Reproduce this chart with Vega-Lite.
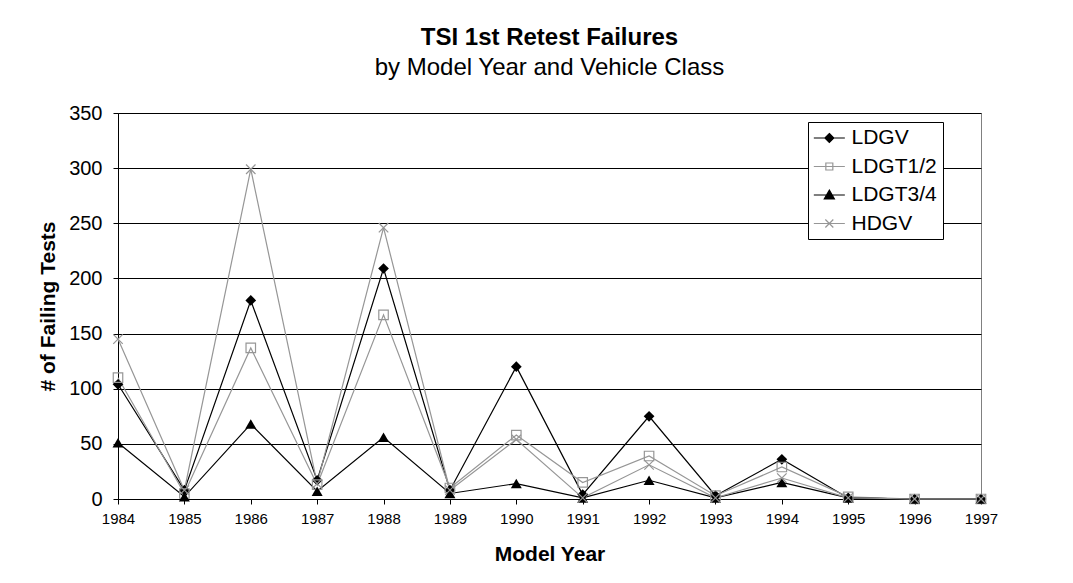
{
  "$schema": "https://vega.github.io/schema/vega-lite/v6.json",
  "width": 863,
  "height": 386,
  "autosize": {"type": "none"},
  "padding": {"left": 118, "top": 113, "right": 92, "bottom": 84},
  "background": "white",
  "title": {
    "text": "TSI 1st Retest Failures",
    "subtitle": "by Model Year and Vehicle Class",
    "anchor": "middle",
    "font": "Liberation Sans",
    "fontSize": 24,
    "fontWeight": "bold",
    "color": "#000000",
    "subtitleFont": "Liberation Sans",
    "subtitleFontSize": 24,
    "subtitleFontWeight": "normal",
    "subtitleColor": "#000000",
    "subtitlePadding": 6,
    "offset": 23
  },
  "data": {
    "values": [
      {"series": "LDGV", "year": 1984, "value": 104},
      {"series": "LDGV", "year": 1985, "value": 8},
      {"series": "LDGV", "year": 1986, "value": 180},
      {"series": "LDGV", "year": 1987, "value": 17},
      {"series": "LDGV", "year": 1988, "value": 209},
      {"series": "LDGV", "year": 1989, "value": 8},
      {"series": "LDGV", "year": 1990, "value": 120},
      {"series": "LDGV", "year": 1991, "value": 4},
      {"series": "LDGV", "year": 1992, "value": 75},
      {"series": "LDGV", "year": 1993, "value": 3},
      {"series": "LDGV", "year": 1994, "value": 36},
      {"series": "LDGV", "year": 1995, "value": 1},
      {"series": "LDGV", "year": 1996, "value": 0},
      {"series": "LDGV", "year": 1997, "value": 0},
      {"series": "LDGT1/2", "year": 1984, "value": 110},
      {"series": "LDGT1/2", "year": 1985, "value": 5},
      {"series": "LDGT1/2", "year": 1986, "value": 137},
      {"series": "LDGT1/2", "year": 1987, "value": 13},
      {"series": "LDGT1/2", "year": 1988, "value": 167},
      {"series": "LDGT1/2", "year": 1989, "value": 10},
      {"series": "LDGT1/2", "year": 1990, "value": 58},
      {"series": "LDGT1/2", "year": 1991, "value": 15},
      {"series": "LDGT1/2", "year": 1992, "value": 39},
      {"series": "LDGT1/2", "year": 1993, "value": 3},
      {"series": "LDGT1/2", "year": 1994, "value": 29},
      {"series": "LDGT1/2", "year": 1995, "value": 2},
      {"series": "LDGT1/2", "year": 1996, "value": 0},
      {"series": "LDGT1/2", "year": 1997, "value": 0},
      {"series": "LDGT3/4", "year": 1984, "value": 51},
      {"series": "LDGT3/4", "year": 1985, "value": 2},
      {"series": "LDGT3/4", "year": 1986, "value": 68},
      {"series": "LDGT3/4", "year": 1987, "value": 7},
      {"series": "LDGT3/4", "year": 1988, "value": 56},
      {"series": "LDGT3/4", "year": 1989, "value": 5},
      {"series": "LDGT3/4", "year": 1990, "value": 14},
      {"series": "LDGT3/4", "year": 1991, "value": 1},
      {"series": "LDGT3/4", "year": 1992, "value": 17},
      {"series": "LDGT3/4", "year": 1993, "value": 1},
      {"series": "LDGT3/4", "year": 1994, "value": 15},
      {"series": "LDGT3/4", "year": 1995, "value": 1},
      {"series": "LDGT3/4", "year": 1996, "value": 0},
      {"series": "LDGT3/4", "year": 1997, "value": 0},
      {"series": "HDGV", "year": 1984, "value": 145},
      {"series": "HDGV", "year": 1985, "value": 8},
      {"series": "HDGV", "year": 1986, "value": 299},
      {"series": "HDGV", "year": 1987, "value": 14},
      {"series": "HDGV", "year": 1988, "value": 246},
      {"series": "HDGV", "year": 1989, "value": 8},
      {"series": "HDGV", "year": 1990, "value": 54},
      {"series": "HDGV", "year": 1991, "value": 1},
      {"series": "HDGV", "year": 1992, "value": 31},
      {"series": "HDGV", "year": 1993, "value": 1},
      {"series": "HDGV", "year": 1994, "value": 19},
      {"series": "HDGV", "year": 1995, "value": 1},
      {"series": "HDGV", "year": 1996, "value": 0},
      {"series": "HDGV", "year": 1997, "value": 0}
    ]
  },
  "encoding": {
    "x": {
      "field": "year",
      "type": "quantitative",
      "scale": {"domain": [1984, 1997], "nice": false, "zero": false},
      "axis": {
        "title": "Model Year",
        "values": [1984, 1985, 1986, 1987, 1988, 1989, 1990, 1991, 1992, 1993, 1994, 1995, 1996, 1997],
        "format": "d",
        "grid": false,
        "domainColor": "#000000",
        "tickColor": "#000000",
        "tickSize": 5,
        "labelFont": "Liberation Sans",
        "labelFontSize": 15,
        "labelColor": "#000000",
        "labelPadding": 7,
        "labelFlush": false,
        "labelOverlap": false,
        "titleFont": "Liberation Sans",
        "titleFontSize": 21,
        "titleFontWeight": "bold",
        "titleColor": "#000000",
        "titlePadding": 17
      }
    },
    "y": {
      "field": "value",
      "type": "quantitative",
      "scale": {"domain": [0, 350], "nice": false},
      "axis": {
        "title": "# of Failing Tests",
        "values": [0, 50, 100, 150, 200, 250, 300, 350],
        "grid": true,
        "gridColor": "#000000",
        "gridWidth": 1,
        "domainColor": "#000000",
        "tickColor": "#000000",
        "tickSize": 5,
        "labelFont": "Liberation Sans",
        "labelFontSize": 20,
        "labelColor": "#000000",
        "labelPadding": 11,
        "labelFlush": false,
        "titleFont": "Liberation Sans",
        "titleFontSize": 21,
        "titleFontWeight": "bold",
        "titleColor": "#000000",
        "titlePadding": 10
      }
    }
  },
  "layer": [
    {
      "transform": [{"filter": {"field": "year", "equal": 1997}}],
      "mark": {"type": "point", "strokeWidth": 1.2, "size": 20, "opacity": 1},
      "encoding": {
        "shape": {
          "field": "series",
          "type": "nominal",
          "scale": {
            "domain": ["LDGV", "LDGT1/2", "LDGT3/4", "HDGV"],
            "range": [
              "M-1.05,0H2.15M0.55,-0.46L1.01,0L0.55,0.46L0.09,0Z",
              "M-1.05,0H2.15M0.19,-0.36H0.91V0.36H0.19Z",
              "M-1.05,0H2.15M0.55,-0.5L1.07,0.4L0.03,0.4Z",
              "M-1.05,0H2.15M0.14,-0.41L0.96,0.41M0.14,0.41L0.96,-0.41"
            ]
          },
          "legend": {
            "title": null,
            "orient": "none",
            "legendX": 690,
            "legendY": 9,
            "direction": "vertical",
            "strokeColor": "#000000",
            "fillColor": "#ffffff",
            "padding": 5.5,
            "symbolSize": 376,
            "symbolStrokeWidth": 1.2,
            "symbolOpacity": 1,
            "labelFont": "Liberation Sans",
            "labelFontSize": 21,
            "labelColor": "#000000",
            "labelOffset": 17,
            "rowPadding": 6.5
          }
        },
        "fill": {
          "field": "series",
          "type": "nominal",
          "scale": {
            "domain": ["LDGV", "LDGT1/2", "LDGT3/4", "HDGV"],
            "range": ["#000000", "transparent", "#000000", "transparent"]
          }
        },
        "stroke": {
          "field": "series",
          "type": "nominal",
          "scale": {
            "domain": ["LDGV", "LDGT1/2", "LDGT3/4", "HDGV"],
            "range": ["#000000", "#969696", "#000000", "#969696"]
          }
        }
      }
    },
    {
      "mark": {"type": "line", "strokeWidth": 1.2},
      "encoding": {
        "color": {
          "field": "series",
          "type": "nominal",
          "scale": {
            "domain": ["LDGV", "LDGT1/2", "LDGT3/4", "HDGV"],
            "range": ["#000000", "#969696", "#000000", "#969696"]
          },
          "legend": null
        }
      }
    },
    {
      "transform": [{"filter": {"field": "series", "equal": "LDGV"}}],
      "mark": {"type": "point", "shape": "diamond", "filled": true, "color": "#000000", "size": 115, "opacity": 1}
    },
    {
      "transform": [{"filter": {"field": "series", "equal": "LDGT1/2"}}],
      "mark": {"type": "point", "shape": "square", "filled": false, "color": "#969696", "strokeWidth": 1.2, "size": 90, "opacity": 1}
    },
    {
      "transform": [{"filter": {"field": "series", "equal": "LDGT3/4"}}],
      "mark": {"type": "point", "shape": "triangle-up", "filled": true, "color": "#000000", "size": 120, "opacity": 1}
    },
    {
      "transform": [{"filter": {"field": "series", "equal": "HDGV"}}],
      "mark": {"type": "point", "shape": "M-1,-1L1,1M-1,1L1,-1", "filled": false, "color": "#969696", "strokeWidth": 1.2, "size": 90, "opacity": 1}
    }
  ],
  "config": {
    "view": {"stroke": "#808080", "strokeWidth": 1},
    "font": "Liberation Sans"
  }
}
